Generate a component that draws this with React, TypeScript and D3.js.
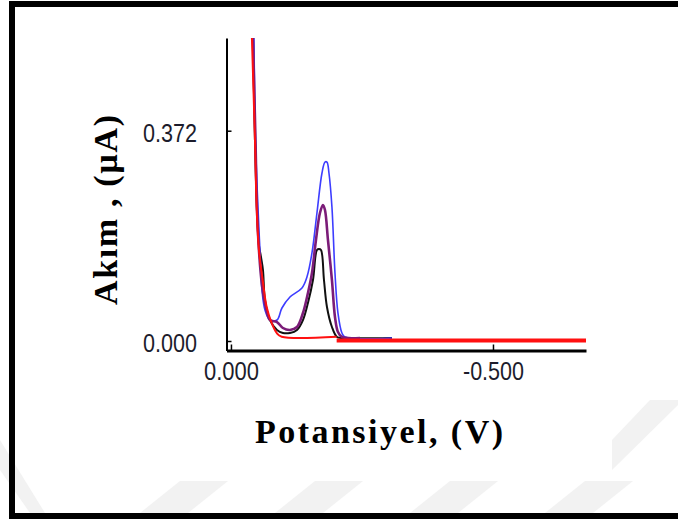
import React from 'react';
import * as d3 from 'd3';

// potential (V), current (µA)
const blackCurve: [number, number][] = [
  [-0.042, 0.536], [-0.0458, 0.3556], [-0.0496, 0.2317], [-0.0534, 0.1698], [-0.0573, 0.1486],
  [-0.0611, 0.1256], [-0.0649, 0.0725], [-0.0744, 0.0371], [-0.0878, 0.0195], [-0.0992, 0.0142],
  [-0.1126, 0.0142], [-0.126, 0.0195], [-0.1374, 0.0371], [-0.1469, 0.0672], [-0.1565, 0.1079],
  [-0.1641, 0.161], [-0.1679, 0.1627], [-0.1718, 0.161], [-0.1775, 0.1079], [-0.1832, 0.0601],
  [-0.1927, 0.0248], [-0.2023, 0.0071], [-0.2137, 0.0053], [-0.3073, 0.0053],
];

const purpleCurve: [number, number][] = [
  [-0.042, 0.536], [-0.0468, 0.3556], [-0.0496, 0.237], [-0.0534, 0.161], [-0.0592, 0.099],
  [-0.0668, 0.0584], [-0.0744, 0.0371], [-0.0878, 0.0336], [-0.0992, 0.023], [-0.1126, 0.0195],
  [-0.126, 0.0248], [-0.1374, 0.0495], [-0.1469, 0.0849], [-0.1546, 0.1203], [-0.1622, 0.1787],
  [-0.1698, 0.2264], [-0.1756, 0.2406], [-0.1794, 0.2317], [-0.1851, 0.1787], [-0.1927, 0.1079],
  [-0.1985, 0.0425], [-0.2042, 0.0159], [-0.2118, 0.0071], [-0.2462, 0.0053],
];

const blueCurve: [number, number][] = [
  [-0.0439, 0.536], [-0.0468, 0.3556], [-0.0515, 0.237], [-0.0553, 0.161], [-0.0592, 0.0902],
  [-0.0649, 0.0548], [-0.0744, 0.0371], [-0.0878, 0.0371], [-0.0973, 0.0584], [-0.1126, 0.0778],
  [-0.1355, 0.0938], [-0.145, 0.1132], [-0.1546, 0.1557], [-0.1641, 0.2264], [-0.1737, 0.2972],
  [-0.1794, 0.3166], [-0.1832, 0.3166], [-0.187, 0.2972], [-0.1927, 0.237], [-0.1985, 0.1203],
  [-0.2042, 0.0495], [-0.2118, 0.0142], [-0.2176, 0.0071], [-0.3073, 0.0053],
];

const redCurve: [number, number][] = [
  [-0.04, 0.536], [-0.0458, 0.3556], [-0.049, 0.237], [-0.0534, 0.161], [-0.0605, 0.1079],
  [-0.0681, 0.0601], [-0.0777, 0.0318], [-0.0872, 0.0142], [-0.0968, 0.0076], [-0.2017, 0.0076],
];

const redBaseline: [number, number][] = [
  [-0.2017, 0.001], [-0.6775, 0.001],
];

const xTicks = [0, -0.5];
const yTicks = [0, 0.372];

// faint watermark stripes at the bottom (x of lower-left corner)
const stripes = [140, 275, 410, 545];

const fmt = (d: any) => (+d).toFixed(3);

const App = () => {
  const ref = React.useRef<SVGSVGElement>(null);

  React.useEffect(() => {
    const svg = d3.select(ref.current);
    svg.selectAll('*').remove();

    svg.append('rect').attr('width', 678).attr('height', 519).attr('fill', '#fff');

    // watermark
    const wm = svg.append('g').attr('fill', '#f2f2f2');
    stripes.forEach(s => {
      wm.append('polygon').attr('points', `${s},513 ${s + 48},513 ${s + 88},481 ${s + 40},481`);
    });
    wm.append('polygon').attr('points', '0,440 0,470 30,513 45,513');
    wm.append('polygon').attr('points', '612,470 612,440 650,400 678,400 678,405');

    // frame
    svg.append('rect').attr('x', 9).attr('y', 1).attr('width', 669).attr('height', 6).attr('fill', '#000');
    svg.append('rect').attr('x', 9).attr('y', 1).attr('width', 6).attr('height', 518).attr('fill', '#000');
    svg.append('rect').attr('x', 9).attr('y', 513).attr('width', 669).attr('height', 6).attr('fill', '#000');

    const x = d3.scaleLinear().domain([0.0085, -0.6775]).range([226.5, 586]);
    const y = d3.scaleLinear().domain([-0.0168, 0.536]).range([350.5, 38]);

    const tickFont = '"Liberation Sans Narrow", "Liberation Sans", Arial, sans-serif';

    const yAxis = svg.append('g')
      .attr('transform', 'translate(226.5,0)')
      .call(d3.axisLeft(y).tickValues(yTicks).tickFormat(fmt).tickSize(-5).tickSizeOuter(0).tickPadding(29.5));
    yAxis.select('.domain').attr('stroke', '#000').attr('stroke-width', 2);
    yAxis.selectAll('.tick line').attr('stroke', '#000').attr('stroke-width', 1.5);
    yAxis.selectAll('.tick text')
      .attr('font-family', tickFont).attr('font-size', 25).attr('fill', '#1c1c2c')
      .attr('dy', '0.42em')
      .attr('textLength', 54).attr('lengthAdjust', 'spacingAndGlyphs');

    const xAxis = svg.append('g')
      .attr('transform', 'translate(0,350.5)')
      .call(d3.axisBottom(x).tickValues(xTicks).tickFormat(fmt).tickSize(-6).tickSizeOuter(0).tickPadding(12));
    xAxis.select('.domain').attr('stroke', '#000').attr('stroke-width', 3);
    xAxis.selectAll('.tick line').attr('stroke', '#000').attr('stroke-width', 1.5);
    xAxis.selectAll('.tick text')
      .attr('font-family', tickFont).attr('font-size', 25).attr('fill', '#1c1c2c')
      .attr('textLength', (d: any) => (d === 0 ? 55 : 61)).attr('lengthAdjust', 'spacingAndGlyphs');

    const line = d3.line<[number, number]>()
      .x(d => x(d[0]))
      .y(d => y(d[1]))
      .curve(d3.curveCatmullRom.alpha(0.5));

    const series: [[number, number][], string, number][] = [
      [blackCurve, '#111111', 2],
      [blueCurve, '#3d3dff', 1.6],
      [purpleCurve, '#7b1c78', 2.6],
      [redCurve, '#ff1010', 2],
      [redBaseline, '#ff1010', 4],
    ];
    series.forEach(([data, color, w]) => {
      svg.append('path')
        .datum(data)
        .attr('d', line)
        .attr('fill', 'none')
        .attr('stroke', color)
        .attr('stroke-width', w)
        .attr('stroke-linejoin', 'round');
    });

    // axis titles
    svg.append('text')
      .attr('x', 379).attr('y', 443)
      .attr('text-anchor', 'middle')
      .attr('font-family', '"Liberation Serif", "Times New Roman", serif')
      .attr('font-weight', 'bold').attr('font-size', 34)
      .attr('textLength', 248).attr('lengthAdjust', 'spacing')
      .text('Potansiyel, (V)');

    svg.append('text')
      .attr('transform', 'translate(117,210) rotate(-90)')
      .attr('text-anchor', 'middle')
      .attr('font-family', '"Liberation Serif", "Times New Roman", serif')
      .attr('font-weight', 'bold').attr('font-size', 34)
      .attr('textLength', 190).attr('lengthAdjust', 'spacing')
      .text('Akım , (µA)');
  }, []);

  return (
    <svg ref={ref} width={678} height={519} style={{ position: 'absolute', left: 0, top: 0 }} />
  );
};

export default App;
